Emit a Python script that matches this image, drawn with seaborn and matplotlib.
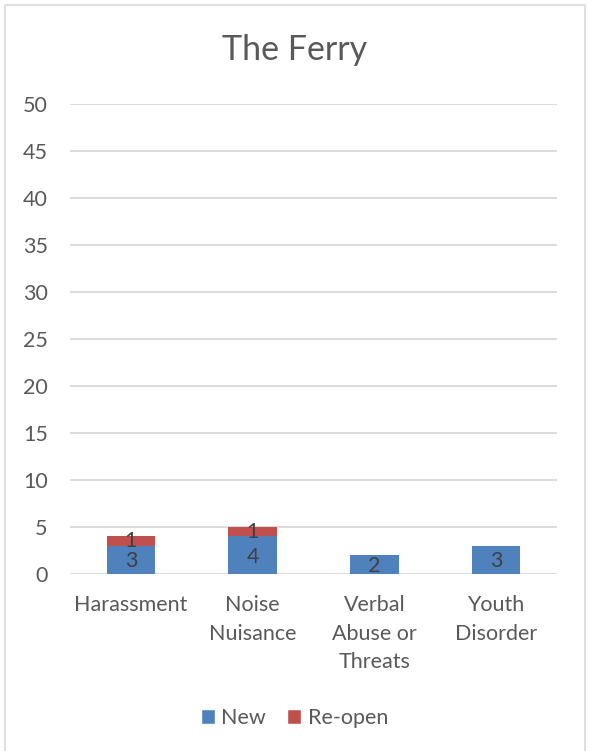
import matplotlib
matplotlib.use("Agg")
import matplotlib.pyplot as plt
from matplotlib.patches import Rectangle, Patch
import seaborn as sns
import pandas as pd

categories = ["Harassment", "Noise\nNuisance", "Verbal\nAbuse or\nThreats", "Youth\nDisorder"]
new_counts = [3, 4, 2, 3]
reopen_counts = [1, 1, 0, 0]
y_ticks = [0, 5, 10, 15, 20, 25, 30, 35, 40, 45, 50]

BLUE = "#4F81BD"
RED = "#C0504D"
TEXT = "#595959"
GRID = "#D9D9D9"
FS = 15.5

sns.set_theme(style="white")
plt.rcParams["font.family"] = ["Lato", "DejaVu Sans"]

df = pd.DataFrame({"category": categories, "New": new_counts, "Re-open": reopen_counts})
df["total"] = df["New"] + df["Re-open"]

fig = plt.figure(figsize=(5.89, 7.51), dpi=100)
fig.patch.set_facecolor("white")
fig.patches.append(Rectangle((5 / 589, -0.01), 580 / 589, 1 - 5 / 751 + 0.01,
                             transform=fig.transFigure, fill=False,
                             edgecolor="#D9D9D9", linewidth=1.2))

ax = fig.add_axes([70 / 589, 1 - 574 / 751, 487 / 589, 470 / 751])

# stacked bars: totals in red underneath, new cases in blue on top
sns.barplot(data=df, x="category", y="total", color=RED, width=0.4,
            saturation=1, ax=ax, zorder=3, linewidth=0)
sns.barplot(data=df, x="category", y="New", color=BLUE, width=0.4,
            saturation=1, ax=ax, zorder=4, linewidth=0)

for i, (n, r) in enumerate(zip(new_counts, reopen_counts)):
    if n:
        ax.text(i, n / 2 - 0.15, str(n), ha="center", va="center", fontsize=FS,
                color="#404040", zorder=5)
    if r:
        ax.text(i, n + r / 2, str(r), ha="center", va="center", fontsize=FS,
                color="#404040", zorder=5)

ax.set_ylim(0, 50)
ax.set_xlim(-0.5, 3.5)
ax.set_yticks(y_ticks)
ax.set_yticklabels([str(t) for t in y_ticks])
ax.yaxis.grid(True, color=GRID, linewidth=1.3, zorder=0)
ax.set_axisbelow(True)
for s in ax.spines.values():
    s.set_visible(False)
ax.tick_params(axis="both", length=0, labelsize=FS, labelcolor=TEXT)
ax.tick_params(axis="y", pad=16)
ax.tick_params(axis="x", pad=15)
for lbl in ax.get_xticklabels():
    lbl.set_linespacing(1.55)
    lbl.set_verticalalignment("top")
ax.set_xlabel("")
ax.set_ylabel("")

fig.text(0.5, 1 - 50 / 751, "The Ferry", ha="center", va="center",
         fontsize=24.5, color=TEXT)

handles = [Patch(facecolor=BLUE, label="New"), Patch(facecolor=RED, label="Re-open")]
fig.legend(handles=handles, loc="center", bbox_to_anchor=(0.5, 1 - 718 / 751),
           ncol=2, frameon=False, fontsize=FS, labelcolor=TEXT,
           handlelength=0.65, handleheight=0.65, handletextpad=0.3,
           columnspacing=1.0)

fig.savefig("out.png", dpi=100)
